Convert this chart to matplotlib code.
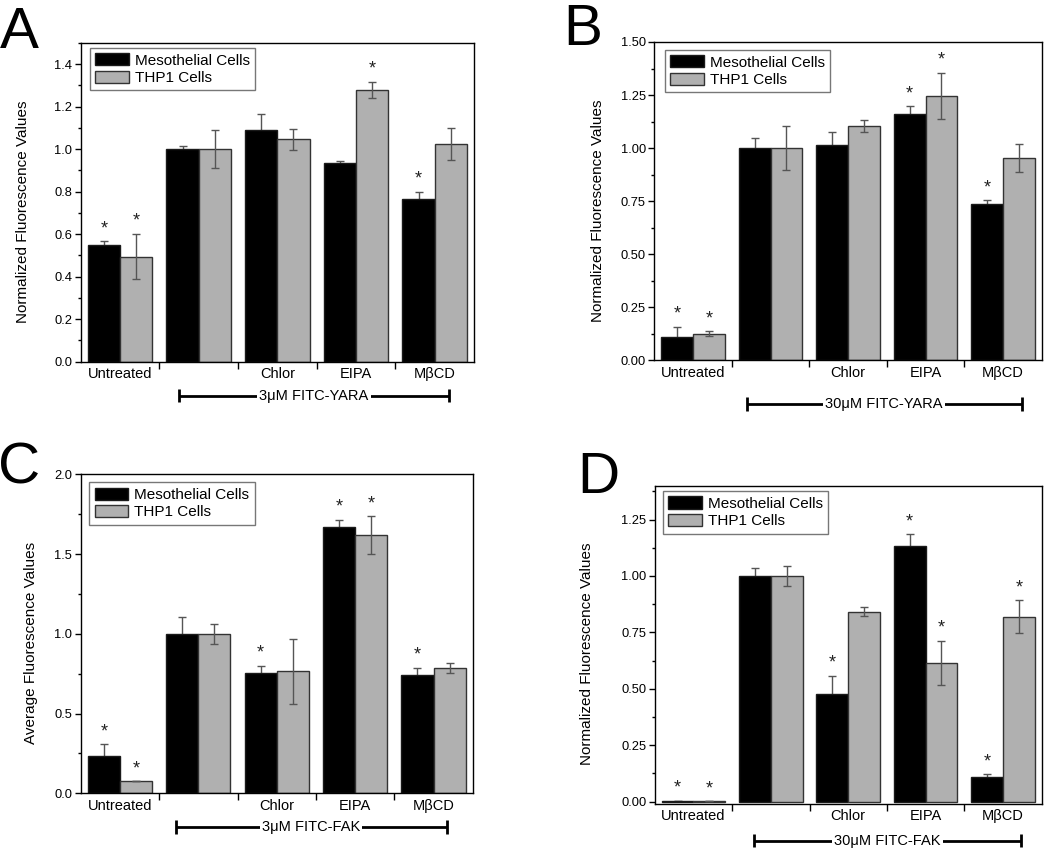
import numpy as np
import matplotlib
matplotlib.use("Agg")
import matplotlib.pyplot as plt
import matplotlib.transforms as mtransforms

plt.rcParams['font.family'] = ['Liberation Sans', 'DejaVu Sans']

categories = ["Untreated", "", "Chlor", "EIPA", "M\u03b2CD"]
series_names = ["Mesothelial Cells", "THP1 Cells"]

# Panel A: 3uM FITC-YARA
a_meso = [0.55, 1.00, 1.09, 0.935, 0.765]
a_meso_err = [0.016, 0.015, 0.077, 0.008, 0.034]
a_thp1 = [0.495, 1.00, 1.047, 1.28, 1.025]
a_thp1_err = [0.108, 0.09, 0.05, 0.038, 0.074]
a_meso_star = [True, False, False, False, True]
a_thp1_star = [True, False, False, True, False]
a_yticks = [0.0, 0.2, 0.4, 0.6, 0.8, 1.0, 1.2, 1.4]
a_ylabels = ["0.0", "0.2", "0.4", "0.6", "0.8", "1.0", "1.2", "1.4"]

# Panel B: 30uM FITC-YARA
b_meso = [0.108, 1.00, 1.016, 1.161, 0.738]
b_meso_err = [0.051, 0.046, 0.058, 0.036, 0.016]
b_thp1 = [0.126, 1.00, 1.103, 1.245, 0.952]
b_thp1_err = [0.012, 0.105, 0.029, 0.11, 0.065]
b_meso_star = [True, False, False, True, True]
b_thp1_star = [True, False, False, True, False]
b_yticks = [0.0, 0.25, 0.5, 0.75, 1.0, 1.25, 1.5]
b_ylabels = ["0.00", "0.25", "0.50", "0.75", "1.00", "1.25", "1.50"]

# Panel C: 3uM FITC-FAK
c_meso = [0.232, 1.00, 0.754, 1.670, 0.742]
c_meso_err = [0.077, 0.108, 0.046, 0.046, 0.044]
c_thp1 = [0.075, 1.00, 0.765, 1.618, 0.786]
c_thp1_err = [0.0, 0.063, 0.205, 0.118, 0.031]
c_meso_star = [True, False, True, True, True]
c_thp1_star = [True, False, False, True, False]
c_yticks = [0.0, 0.5, 1.0, 1.5, 2.0]
c_ylabels = ["0.0", "0.5", "1.0", "1.5", "2.0"]

# Panel D: 30uM FITC-FAK
d_meso = [0.005, 1.00, 0.478, 1.134, 0.109]
d_meso_err = [0.0, 0.035, 0.081, 0.051, 0.012]
d_thp1 = [0.003, 1.00, 0.842, 0.616, 0.820]
d_thp1_err = [0.0, 0.046, 0.019, 0.097, 0.073]
d_meso_star = [True, False, True, True, True]
d_thp1_star = [True, False, False, True, True]
d_yticks = [0.0, 0.25, 0.5, 0.75, 1.0, 1.25]
d_ylabels = ["0.00", "0.25", "0.50", "0.75", "1.00", "1.25"]

fig = plt.figure(figsize=(10.5, 8.48), dpi=100)
W, H = 1050.0, 848.0


def make_axes(left, top, right, bottom):
    return fig.add_axes([left / W, 1 - bottom / H, (right - left) / W, (bottom - top) / H])


def panel(ax, meso, meso_err, thp1, thp1_err, meso_star, thp1_star,
          ylim, yticks, ylabels, yminor, ylabel, bracket_label, bx0, bx1, by,
          ylab_x, legend_anchor):
    x = np.arange(len(categories)) + 0.5
    w = 0.41
    xm = x - w / 2
    xt = x + w / 2
    ax.bar(xm, meso, w, color='black', edgecolor='#1a1a1a', linewidth=1.0,
           zorder=2, label=series_names[0])
    ax.bar(xt, thp1, w, color='#b0b0b0', edgecolor='#333333', linewidth=1.0,
           zorder=2, label=series_names[1])
    ax.errorbar(xm, meso, yerr=meso_err, fmt='none', ecolor='#555555',
                elinewidth=1.0, capsize=3, capthick=1.0, zorder=1)
    ax.errorbar(xt, thp1, yerr=thp1_err, fmt='none', ecolor='#555555',
                elinewidth=1.0, capsize=3, capthick=1.0, zorder=3)
    for xs, vals, errs, stars in ((xm, meso, meso_err, meso_star),
                                  (xt, thp1, thp1_err, thp1_star)):
        for xi, v, e, s in zip(xs, vals, errs, stars):
            if s:
                ax.annotate('*', xy=(xi, v + e), xytext=(0, 9),
                            textcoords='offset points', ha='center',
                            va='center', fontsize=13, color='#222222')
    ax.set_xlim(0, 5)
    ax.set_ylim(*ylim)
    ax.set_yticks(yticks)
    ax.set_yticks(yminor, minor=True)
    ax.set_yticklabels(ylabels)
    ax.set_xticks(x)
    ax.set_xticklabels(categories, fontsize=10.5)
    ax.set_xticks([1, 2, 3, 4], minor=True)
    ax.tick_params(axis='x', which='major', length=0, pad=4)
    ax.tick_params(axis='x', which='minor', length=5, width=1, direction='out')
    ax.tick_params(axis='y', which='major', length=4, width=1, direction='out',
                   labelsize=9.3, pad=2)
    ax.tick_params(axis='y', which='minor', length=2.5, width=1, direction='out')
    for sp in ax.spines.values():
        sp.set_linewidth(1.0)
        sp.set_color('black')
    ax.set_ylabel(ylabel, fontsize=11)
    ax.yaxis.set_label_coords(ylab_x, 0.47)
    leg = ax.legend(loc='upper left', bbox_to_anchor=legend_anchor, fontsize=11,
                    frameon=True, fancybox=False, edgecolor='#555555',
                    handlelength=2.2, handleheight=0.85, handletextpad=0.4,
                    labelspacing=0.2, borderpad=0.35, borderaxespad=0)
    leg.get_frame().set_linewidth(1.0)
    # bracket
    trans = mtransforms.blended_transform_factory(ax.transData, ax.transAxes)
    ax.plot([bx0, bx1], [by, by], color='black', lw=2, transform=trans,
            clip_on=False, solid_capstyle='butt')
    for bx in (bx0, bx1):
        ax.plot([bx, bx], [by - 0.021, by + 0.021], color='black', lw=2,
                transform=trans, clip_on=False, solid_capstyle='butt')
    ax.text((bx0 + bx1) / 2, by, bracket_label, transform=trans, ha='center',
            va='center', fontsize=10.5,
            bbox=dict(facecolor='white', edgecolor='none', pad=1.5))


axA = make_axes(80.7, 43, 474, 361.7)
panel(axA, a_meso, a_meso_err, a_thp1, a_thp1_err, a_meso_star, a_thp1_star,
      (0, 1.5), a_yticks, a_ylabels, np.arange(0.1, 1.51, 0.2),
      "Normalized Fluorescence Values", "3\u03bcM FITC-YARA",
      1.25, 4.68, -0.107, -0.128, (0.023, 0.985))

axB = make_axes(654.3, 42, 1041.8, 360.3)
panel(axB, b_meso, b_meso_err, b_thp1, b_thp1_err, b_meso_star, b_thp1_star,
      (0, 1.5), b_yticks, b_ylabels, np.arange(0.125, 1.5, 0.25),
      "Normalized Fluorescence Values", "30\u03bcM FITC-YARA",
      1.19, 4.74, -0.137, -0.127, (0.027, 0.975))

axC = make_axes(80.7, 474.3, 472.7, 793.3)
panel(axC, c_meso, c_meso_err, c_thp1, c_thp1_err, c_meso_star, c_thp1_star,
      (0, 2.0), c_yticks, c_ylabels, np.arange(0.25, 2.0, 0.5),
      "Average Fluorescence Values", "3\u03bcM FITC-FAK",
      1.21, 4.67, -0.106, -0.109, (0.022, 0.975))

axD = make_axes(654.7, 485.7, 1041.7, 803.5)
panel(axD, d_meso, d_meso_err, d_thp1, d_thp1_err, d_meso_star, d_thp1_star,
      (-0.008, 1.4), d_yticks, d_ylabels, np.arange(0.125, 1.4, 0.25),
      "Normalized Fluorescence Values", "30\u03bcM FITC-FAK",
      1.28, 4.73, -0.117, -0.157, (0.021, 0.983))

for letter, xp, yp in (("A", 0, 48), ("B", 563, 45), ("C", -2, 483), ("D", 577, 493)):
    fig.text(xp / W, 1 - yp / H, letter, fontsize=42, ha='left', va='baseline')

fig.savefig("out.png", dpi=100)
